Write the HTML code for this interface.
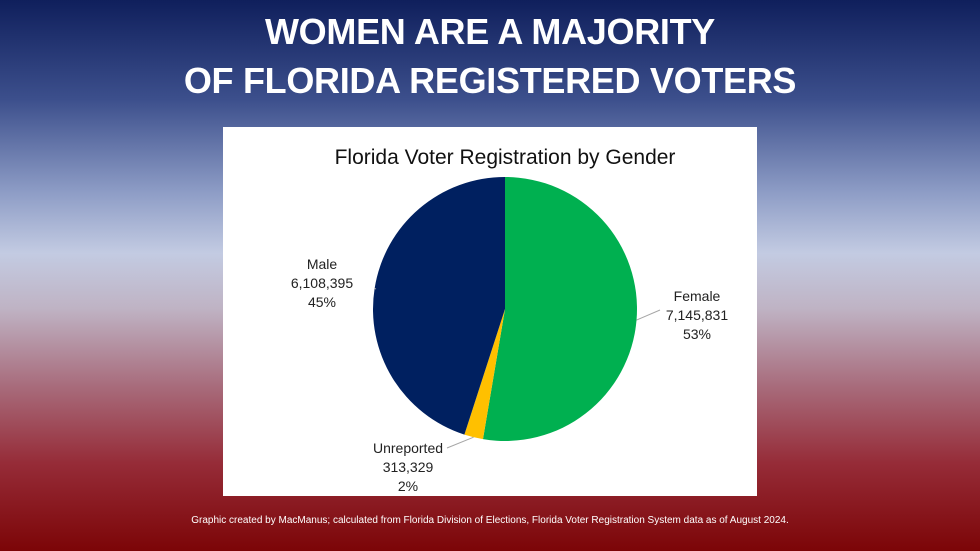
<!DOCTYPE html>
<html><head><meta charset="utf-8"><style>
html,body{margin:0;padding:0}
body{width:980px;height:551px;position:relative;overflow:hidden;font-family:"Liberation Sans",sans-serif;
background:linear-gradient(to bottom,#0f1f5c 0%,#3c4f8c 18%,#8e9dc6 35%,#c3cbe2 46%,#bfb3c4 56%,#a86c7c 70%,#962c38 84%,#7c0507 100%);}
h1{position:absolute;left:0;width:980px;top:7px;margin:0;text-align:center;color:#fff;font-weight:bold;font-size:36px;line-height:49px;letter-spacing:-0.3px}
#box{position:absolute;left:223px;top:127px;width:534px;height:369px;background:#fff}
#foot{position:absolute;left:0;width:980px;top:515px;text-align:center;color:#fff;font-size:10px}
</style></head><body>
<h1>WOMEN ARE A MAJORITY<br>OF FLORIDA REGISTERED VOTERS</h1>
<div id="box">
<svg id="svg" width="534" height="369">
<text x="282" y="37" text-anchor="middle" font-size="21" font-family="Liberation Sans, sans-serif" fill="#111">Florida Voter Registration by Gender</text>
</svg>
</div>
<div id="foot">Graphic created by MacManus; calculated from Florida Division of Elections, Florida Voter Registration System data as of August 2024.</div>
<script>
const categories=["Female","Unreported","Male"];
const values=[7145831,313329,6108395];
const valueLabels=["7,145,831","313,329","6,108,395"];
const pctLabels=["53%","2%","45%"];
const colors=["#00b050","#ffc000","#002060"];
const svg=document.getElementById('svg');
const NS="http://www.w3.org/2000/svg";
const cx=282,cy=182,r=132;
const total=values.reduce((a,b)=>a+b,0);
let a0=0;
const labelPos=[[474,174],[185,326],[99,142]];
const lineEnds=[[437,183],[224,321],[153,162]];
values.forEach((v,i)=>{
  const a1=a0+v/total*2*Math.PI;
  const p=(a)=>[cx+r*Math.sin(a),cy-r*Math.cos(a)];
  const [x0,y0]=p(a0),[x1,y1]=p(a1);
  const path=document.createElementNS(NS,'path');
  path.setAttribute('d',`M${cx},${cy}L${x0},${y0}A${r},${r} 0 ${a1-a0>Math.PI?1:0} 1 ${x1},${y1}Z`);
  path.setAttribute('fill',colors[i]);
  
  
  svg.appendChild(path);
  const am=(a0+a1)/2;
  const [lx,ly]=labelPos[i];
  const [ex,ey]=[cx+r*Math.sin(am),cy-r*Math.cos(am)];
  const ln=document.createElementNS(NS,'polyline');
  const [tx,ty]=lineEnds[i];
  ln.setAttribute('points',`${ex},${ey} ${tx},${ty}`);
  ln.setAttribute('stroke','#a6a6a6');ln.setAttribute('fill','none');
  
  
  svg.appendChild(ln);
  const t=document.createElementNS(NS,'text');
  t.setAttribute('font-size','14');t.setAttribute('fill','#222');
  t.setAttribute('text-anchor','middle');
  [categories[i],valueLabels[i],pctLabels[i]].forEach((s,k)=>{
    const ts=document.createElementNS(NS,'tspan');
    ts.setAttribute('x',lx);ts.setAttribute('y',ly+k*19);ts.textContent=s;t.appendChild(ts);
  });
  
  
  svg.appendChild(t);
  a0=a1;
});
</script>
</body></html>
